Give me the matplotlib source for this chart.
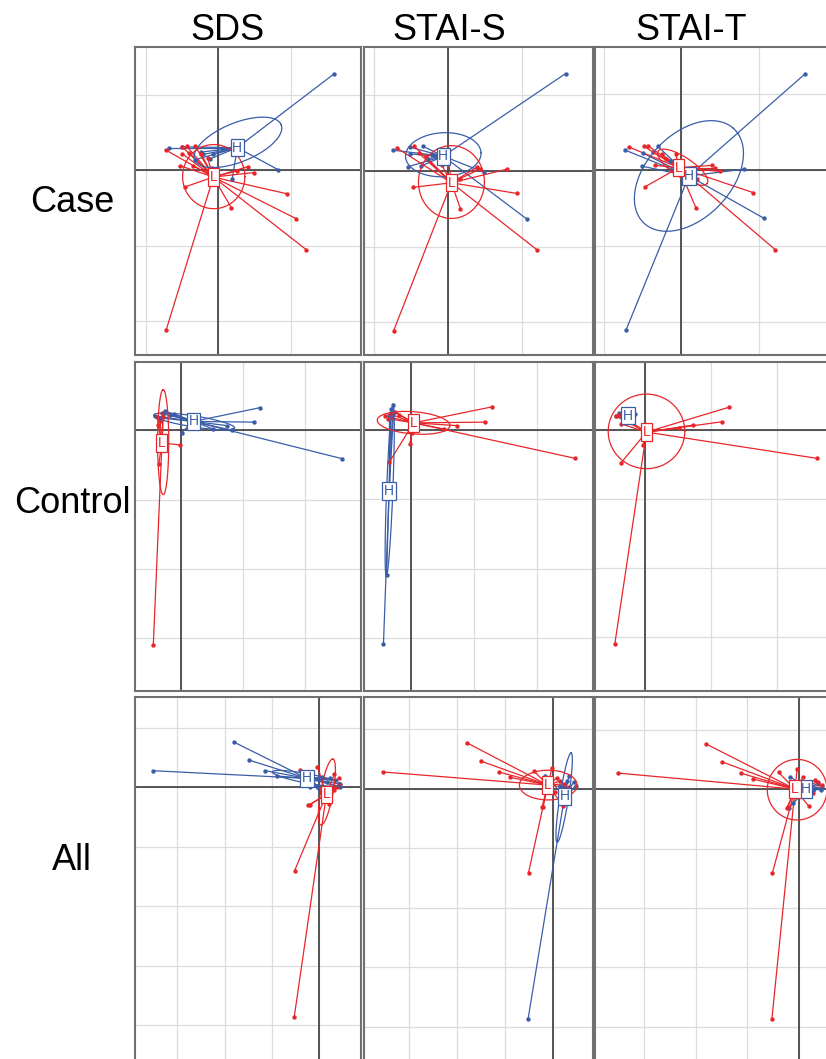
import numpy as np
from matplotlib import pyplot as plt

plt.rcParams['font.family'] = ['Liberation Sans', 'DejaVu Sans']

col_titles = ["SDS", "STAI-S", "STAI-T"]
row_titles = ["Case", "Control", "All"]

BLUE = '#3a5da8'
RED = '#e8262a'

# points are in grid units, origin at the black cross of each panel
# ---- Case ----
case_sds_xlim, case_sds_ylim = (-1.152, 1.968), (-2.447, 1.633)
case_sds_H = [(1.60, 1.28), (-0.68, 0.30), (-0.50, 0.31), (0.82, 0.01), (0.19, -0.12),
              (-0.21, 0.21), (-0.12, 0.15), (-0.07, 0.22), (-0.32, 0.14), (-0.24, 0.24)]
case_sds_L = [(-0.73, 0.27), (-0.50, 0.31), (-0.44, 0.32), (-0.32, 0.32), (-0.50, 0.22),
              (-0.40, 0.23), (-0.24, 0.22), (-0.15, 0.16), (-0.53, 0.06), (-0.35, 0.06),
              (-0.09, 0.03), (0.41, 0.05), (0.49, -0.03), (0.25, -0.01), (-0.46, -0.22),
              (0.18, -0.50), (0.94, -0.31), (1.07, -0.64), (1.21, -1.05), (-0.72, -2.11)]
case_sds_centres = {"H": (0.26, 0.30), "L": (-0.07, -0.09)}
case_sds_ellipses = {"H": (0.27, 0.37, 0.64, 0.26, 21), "L": (-0.065, -0.084, 0.43, 0.425, 0)}

case_stais_xlim, case_stais_ylim = (-1.13, 1.96), (-2.43, 1.63)
case_stais_H = [(1.59, 1.28), (-0.74, 0.27), (-0.51, 0.31), (-0.33, 0.32), (-0.51, 0.22),
                (-0.54, 0.05), (-0.36, 0.06), (0.49, -0.02), (1.07, -0.64), (-0.21, 0.21),
                (-0.26, 0.16), (-0.17, 0.19)]
case_stais_L = [(-0.69, 0.30), (-0.45, 0.32), (-0.39, 0.23), (-0.30, 0.19), (-0.47, -0.22),
                (0.17, -0.50), (0.93, -0.30), (1.20, -1.04), (-0.73, -2.11), (0.80, 0.02),
                (0.40, 0.05), (0.43, 0.02), (0.17, -0.11), (-0.08, 0.07), (0.01, 0.12)]
case_stais_centres = {"H": (-0.06, 0.19), "L": (0.05, -0.16)}
case_stais_ellipses = {"H": (-0.06, 0.21, 0.51, 0.29, 3), "L": (0.05, -0.15, 0.445, 0.48, 0)}

case_stait_xlim, case_stait_ylim = (-1.11, 1.917), (-2.44, 1.62)
case_stait_H = [(1.60, 1.27), (-0.72, 0.26), (-0.49, 0.22), (-0.30, 0.31), (-0.51, 0.05),
                (0.81, 0.01), (1.07, -0.64), (-0.71, -2.11), (0.18, -0.12), (-0.14, 0.12)]
case_stait_L = [(-0.67, 0.30), (-0.48, 0.31), (-0.43, 0.32), (-0.36, 0.23), (-0.25, 0.21),
                (-0.07, 0.21), (-0.34, 0.06), (0.40, 0.06), (0.44, 0.03), (0.50, -0.02),
                (0.20, -0.12), (-0.46, -0.22), (0.19, -0.50), (0.93, -0.30), (1.21, -1.05),
                (-0.19, 0.15)]
case_stait_centres = {"H": (0.10, -0.08), "L": (-0.03, 0.03)}
case_stait_ellipses = {"H": (0.10, -0.08, 0.85, 0.55, 47.6), "L": (0.02, 0.035, 0.38, 0.13, -34)}

# ---- Control ----
control_sds_xlim, control_sds_ylim = (-0.746, 2.91), (-3.77, 0.99)
control_sds_H = [(1.28, 0.33), (1.18, 0.12), (2.61, -0.41), (0.74, 0.07), (0.52, 0.02),
                 (0.83, 0.00), (0.01, -0.03), (-0.26, 0.28), (-0.18, 0.23), (-0.42, 0.21),
                 (-0.34, 0.18), (-0.29, 0.24), (-0.12, 0.24)]
control_sds_L = [(-0.45, -3.11), (-0.36, -0.48), (-0.02, -0.21), (-0.39, 0.20), (-0.34, 0.13),
                 (-0.37, 0.08), (-0.29, 0.20), (-0.31, 0.25)]
control_sds_centres = {"H": (0.20, 0.13), "L": (-0.31, -0.18)}
control_sds_ellipses = {"H": (0.21, 0.13, 0.66, 0.08, -8), "L": (-0.29, -0.17, 0.76, 0.09, 90)}

control_stais_xlim, control_stais_ylim = (-0.75, 2.90), (-3.76, 0.976)
control_stais_H = [(-0.44, -3.09), (-0.29, 0.35), (-0.39, -2.09), (-0.35, 0.22), (-0.28, 0.24),
                   (-0.32, 0.30)]
control_stais_L = [(1.29, 0.33), (1.18, 0.11), (2.61, -0.41), (0.74, 0.06), (0.53, 0.01),
                   (-0.02, -0.21), (-0.35, -0.47), (0.01, -0.05), (-0.42, 0.20), (-0.34, 0.23),
                   (-0.26, 0.26), (-0.36, 0.16), (-0.20, 0.22)]
control_stais_centres = {"H": (-0.35, -0.88), "L": (0.04, 0.10)}
control_stais_ellipses = {"H": (-0.34, -0.87, 1.24, 0.05, 87.5), "L": (0.04, 0.10, 0.58, 0.16, -4)}

control_stait_xlim, control_stait_ylim = (-0.75, 2.81), (-3.78, 0.985)
control_stait_H = [(-0.43, 0.21), (-0.36, 0.20), (-0.15, 0.23), (-0.31, 0.17), (-0.38, 0.25)]
control_stait_L = [(1.28, 0.33), (1.18, 0.12), (2.61, -0.41), (0.73, 0.07), (0.52, 0.03),
                   (-0.02, -0.21), (-0.36, -0.48), (-0.45, -3.10), (-0.43, 0.20), (-0.36, 0.09),
                   (-0.38, 0.22), (-0.33, 0.17)]
control_stait_centres = {"H": (-0.25, 0.21), "L": (0.03, -0.03)}
control_stait_ellipses = {"H": (-0.25, 0.21, 0.10, 0.03, 0), "L": (0.03, -0.02, 0.58, 0.54, 0)}

# ---- All ----
all_sds_xlim, all_sds_ylim = (-3.89, 0.88), (-4.69, 1.52)
all_sds_H = [(-3.52, 0.28), (-1.80, 0.76), (-1.49, 0.46), (-1.14, 0.28), (-0.89, 0.19),
             (-0.19, 0.01), (0.02, -0.08), (0.23, 0.15), (0.34, 0.12), (0.41, 0.06),
             (0.16, 0.09), (0.44, 0.01), (0.06, 0.17), (-0.05, 0.03)]
all_sds_L = [(-0.40, 0.29), (-0.04, 0.35), (0.32, 0.22), (0.41, 0.15), (0.44, 0.06),
             (0.37, 0.01), (0.20, -0.28), (-0.23, -0.30), (-0.19, -0.29), (-0.52, -1.40),
             (-0.53, -3.87), (0.23, -0.05), (0.30, -0.05)]
all_sds_centres = {"H": (-0.26, 0.15), "L": (0.15, -0.12)}
all_sds_ellipses = {"H": (-0.26, 0.15, 0.74, 0.08, -8.5), "L": (0.16, -0.08, 0.57, 0.13, 77)}

all_stais_xlim, all_stais_ylim = (-3.93, 0.83), (-4.66, 1.54)
all_stais_H = [(-0.52, -3.87), (-0.16, 0.22), (0.33, 0.22), (0.43, 0.11), (0.36, -0.01),
               (0.22, 0.02), (0.15, 0.05), (0.29, 0.13), (0.47, 0.05)]
all_stais_L = [(-3.53, 0.28), (-1.79, 0.77), (-1.49, 0.46), (-1.13, 0.28), (-0.89, 0.19),
               (-0.39, 0.29), (-0.02, 0.35), (-0.21, -0.30), (-0.23, -0.31), (-0.51, -1.41),
               (0.21, -0.29), (0.08, 0.18), (0.15, 0.13), (0.22, 0.08), (0.33, 0.02),
               (0.03, -0.06)]
all_stais_centres = {"H": (0.24, -0.13), "L": (-0.11, 0.06)}
all_stais_ellipses = {"H": (0.23, -0.15, 0.765, 0.09, 79), "L": (-0.10, 0.06, 0.60, 0.25, 0)}

all_stait_xlim, all_stait_ylim = (-3.96, 0.61), (-4.66, 1.55)
all_stait_H = [(-0.16, 0.21), (-0.18, -0.31), (-0.11, -0.24), (0.22, -0.12), (0.28, -0.02),
               (0.43, -0.01), (0.45, 0.04), (0.38, 0.10)]
all_stait_L = [(-3.52, 0.27), (-1.80, 0.76), (-1.49, 0.46), (-1.13, 0.27), (-0.89, 0.17),
               (-0.39, 0.28), (-0.03, 0.34), (-0.23, -0.32), (-0.21, -0.30), (0.20, -0.29),
               (-0.51, -1.41), (-0.52, -3.87), (0.09, 0.20), (0.32, 0.15), (0.38, 0.12),
               (0.45, 0.07), (0.28, -0.07)]
all_stait_centres = {"H": (0.14, 0.0), "L": (-0.07, 0.0)}
all_stait_ellipses = {"H": (0.14, 0.0, 0.20, 0.08, 0), "L": (-0.03, -0.01, 0.58, 0.51, 0)}

panels = [
    [(case_sds_xlim, case_sds_ylim, case_sds_H, case_sds_L, case_sds_centres, case_sds_ellipses),
     (case_stais_xlim, case_stais_ylim, case_stais_H, case_stais_L, case_stais_centres, case_stais_ellipses),
     (case_stait_xlim, case_stait_ylim, case_stait_H, case_stait_L, case_stait_centres, case_stait_ellipses)],
    [(control_sds_xlim, control_sds_ylim, control_sds_H, control_sds_L, control_sds_centres, control_sds_ellipses),
     (control_stais_xlim, control_stais_ylim, control_stais_H, control_stais_L, control_stais_centres, control_stais_ellipses),
     (control_stait_xlim, control_stait_ylim, control_stait_H, control_stait_L, control_stait_centres, control_stait_ellipses)],
    [(all_sds_xlim, all_sds_ylim, all_sds_H, all_sds_L, all_sds_centres, all_sds_ellipses),
     (all_stais_xlim, all_stais_ylim, all_stais_H, all_stais_L, all_stais_centres, all_stais_ellipses),
     (all_stait_xlim, all_stait_ylim, all_stait_H, all_stait_L, all_stait_centres, all_stait_ellipses)],
]

W, H = 826, 1059
col_px = [(135, 361), (364, 593), (595, 830)]
row_px = [(47, 355), (362, 691), (697, 1066)]


def draw_group(ax, pts, centre, ell, color, label):
    pts = np.array(pts)
    cx, cy = centre
    for x, y in pts:
        ax.plot([cx, x], [cy, y], color=color, lw=0.9, zorder=3)
    ax.scatter(pts[:, 0], pts[:, 1], s=10, color=color, zorder=4, linewidths=0)
    ex0, ey0, a, b, ang = ell
    t = np.linspace(0, 2 * np.pi, 200)
    th = np.radians(ang)
    ex = ex0 + a * np.cos(t) * np.cos(th) - b * np.sin(t) * np.sin(th)
    ey = ey0 + a * np.cos(t) * np.sin(th) + b * np.sin(t) * np.cos(th)
    ax.plot(ex, ey, color=color, lw=0.9, zorder=5)
    ax.text(cx, cy, label, ha='center', va='center', color=color, fontsize=10, zorder=6,
            bbox=dict(boxstyle='square,pad=0.12', fc='white', ec=color, lw=0.9))


fig = plt.figure(figsize=(W / 100, H / 100), dpi=100)

for r in range(3):
    for c in range(3):
        xlim, ylim, ptsH, ptsL, centres, ellipses = panels[r][c]
        x0, x1 = col_px[c]
        y0, y1 = row_px[r]
        ax = fig.add_axes([x0 / W, 1 - y1 / H, (x1 - x0) / W, (y1 - y0) / H])
        ax.set_xlim(*xlim)
        ax.set_ylim(*ylim)
        ax.set_xticks(np.arange(np.ceil(xlim[0]), np.floor(xlim[1]) + 1))
        ax.set_yticks(np.arange(np.ceil(ylim[0]), np.floor(ylim[1]) + 1))
        ax.grid(True, color='#dcdcdc', lw=0.9)
        ax.tick_params(length=0, labelbottom=False, labelleft=False)
        ax.axhline(0, color='#3a3a3a', lw=1.2, zorder=2)
        ax.axvline(0, color='#3a3a3a', lw=1.2, zorder=2)
        for sp in ax.spines.values():
            sp.set_color('#707070')
            sp.set_linewidth(1.5)
        draw_group(ax, ptsH, centres["H"], ellipses["H"], BLUE, "H")
        draw_group(ax, ptsL, centres["L"], ellipses["L"], RED, "L")

# column and row headings
for x, txt in zip([227, 449, 691], col_titles):
    fig.text(x / W, 1 - 40 / H, txt, ha='center', va='baseline', fontsize=26)
for y, txt in zip([212, 513, 870], row_titles):
    fig.text(72 / W, 1 - y / H, txt, ha='center', va='baseline', fontsize=26)

fig.savefig('out.png', dpi=100)
